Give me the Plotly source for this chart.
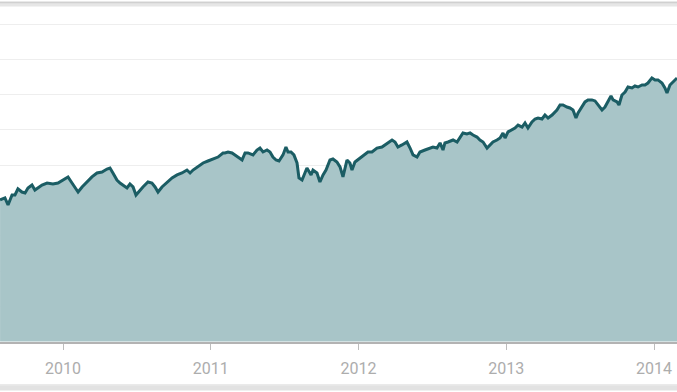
import plotly.graph_objects as go

# Decimal-year positions and index values
years = [
    2009.574, 2009.607, 2009.628, 2009.655, 2009.675, 2009.695, 2009.722, 2009.743, 2009.763, 2009.790,
    2009.810, 2009.831, 2009.858, 2009.892, 2009.932, 2009.966, 2010.000, 2010.034, 2010.061, 2010.081,
    2010.102, 2010.129, 2010.162, 2010.196, 2010.230, 2010.264, 2010.298, 2010.318, 2010.338, 2010.365,
    2010.386, 2010.406, 2010.433, 2010.453, 2010.474, 2010.494, 2010.521, 2010.541, 2010.575, 2010.602,
    2010.623, 2010.643, 2010.670, 2010.704, 2010.738, 2010.772, 2010.805, 2010.839, 2010.860, 2010.880,
    2010.914, 2010.948, 2010.981, 2011.015, 2011.049, 2011.083, 2011.096, 2011.117, 2011.144, 2011.164,
    2011.184, 2011.212, 2011.232, 2011.252, 2011.286, 2011.313, 2011.333, 2011.354, 2011.381, 2011.401,
    2011.421, 2011.442, 2011.462, 2011.489, 2011.509, 2011.523, 2011.543, 2011.563, 2011.584, 2011.597,
    2011.618, 2011.638, 2011.651, 2011.679, 2011.692, 2011.719, 2011.739, 2011.760, 2011.780, 2011.807,
    2011.827, 2011.854, 2011.875, 2011.895, 2011.909, 2011.922, 2011.942, 2011.956, 2011.976, 2012.010,
    2012.044, 2012.064, 2012.091, 2012.125, 2012.159, 2012.179, 2012.200, 2012.227, 2012.247, 2012.267,
    2012.294, 2012.328, 2012.349, 2012.369, 2012.396, 2012.416, 2012.450, 2012.484, 2012.504, 2012.531,
    2012.552, 2012.572, 2012.585, 2012.606, 2012.640, 2012.667, 2012.687, 2012.707, 2012.734, 2012.755,
    2012.775, 2012.802, 2012.822, 2012.843, 2012.870, 2012.890, 2012.910, 2012.937, 2012.958, 2012.978,
    2012.992, 2013.012, 2013.039, 2013.059, 2013.080, 2013.107, 2013.127, 2013.147, 2013.174, 2013.195,
    2013.215, 2013.242, 2013.262, 2013.283, 2013.310, 2013.330, 2013.343, 2013.364, 2013.384, 2013.411,
    2013.431, 2013.452, 2013.472, 2013.486, 2013.513, 2013.533, 2013.553, 2013.580, 2013.601, 2013.621,
    2013.648, 2013.668, 2013.689, 2013.709, 2013.723, 2013.750, 2013.763, 2013.783, 2013.804, 2013.824,
    2013.851, 2013.871, 2013.892, 2013.919, 2013.939, 2013.959, 2013.986, 2014.007, 2014.027, 2014.054,
    2014.074, 2014.088, 2014.108, 2014.129, 2014.156,
]

values = [
    1004, 1018, 968, 1039, 1039, 1082, 1060, 1053, 1089, 1110,
    1074, 1089, 1110, 1124, 1117, 1124, 1145, 1167, 1124, 1089,
    1060, 1096, 1131, 1167, 1195, 1202, 1223, 1230, 1195, 1145,
    1124, 1110, 1089, 1117, 1096, 1039, 1074, 1096, 1131, 1124,
    1096, 1060, 1096, 1131, 1160, 1181, 1195, 1216, 1195, 1216,
    1238, 1266, 1280, 1294, 1308, 1337, 1337, 1344, 1337, 1323,
    1308, 1287, 1337, 1337, 1323, 1358, 1372, 1344, 1358, 1344,
    1308, 1287, 1280, 1323, 1379, 1344, 1344, 1323, 1266, 1160,
    1145, 1195, 1230, 1181, 1216, 1195, 1131, 1181, 1216, 1287,
    1294, 1273, 1238, 1167, 1238, 1287, 1266, 1216, 1273, 1301,
    1323, 1344, 1344, 1372, 1379, 1394, 1415, 1429, 1415, 1379,
    1394, 1415, 1372, 1323, 1308, 1344, 1358, 1372, 1379, 1372,
    1408, 1358, 1408, 1415, 1429, 1415, 1450, 1479, 1472, 1479,
    1464, 1450, 1429, 1415, 1372, 1394, 1415, 1429, 1443, 1479,
    1443, 1486, 1500, 1514, 1535, 1521, 1550, 1514, 1557, 1578,
    1585, 1578, 1606, 1585, 1606, 1628, 1642, 1677, 1677, 1663,
    1656, 1642, 1585, 1621, 1663, 1699, 1713, 1713, 1706, 1677,
    1642, 1663, 1699, 1741, 1713, 1699, 1677, 1748, 1769, 1805,
    1798, 1812, 1805, 1819, 1819, 1833, 1869, 1855, 1855, 1833,
    1798, 1762, 1819, 1840, 1869,
]

tick_years = [2010, 2011, 2012, 2013, 2014]
tick_labels = ["2010", "2011", "2012", "2013", "2014"]

W, H = 677, 392
M_T, M_B = 8, 50
plot_h = H - M_T - M_B


def paper_y(py):
    return (H - M_B - py) / plot_h


fig = go.Figure()
fig.add_trace(go.Scatter(
    x=years, y=values, mode="lines",
    line=dict(color="#1b5d64", width=3),
    fill="tozeroy", fillcolor="#a8c5c8",
    hoverinfo="skip",
))

shapes = [
    dict(type="rect", xref="paper", yref="paper", x0=-0.01, x1=1.01,
         y0=paper_y(6.5), y1=paper_y(1.5), fillcolor="#e6e6e6", line=dict(width=0), layer="above"),
    dict(type="line", xref="paper", yref="paper", x0=-0.01, x1=1.01,
         y0=paper_y(2.5), y1=paper_y(2.5), line=dict(color="#d0d0d0", width=1.5), layer="above"),
    dict(type="rect", xref="paper", yref="paper", x0=-0.01, x1=1.01,
         y0=paper_y(390.5), y1=paper_y(384.5), fillcolor="#e2e2e2", line=dict(width=0)),
    dict(type="line", xref="paper", yref="paper", x0=-0.01, x1=1.01,
         y0=paper_y(385), y1=paper_y(385), line=dict(color="#e9e9e9", width=1.5)),
]

fig.update_layout(
    width=W, height=H,
    margin=dict(l=0, r=0, t=M_T, b=M_B, autoexpand=False),
    paper_bgcolor="white", plot_bgcolor="white",
    showlegend=False,
    shapes=shapes,
    xaxis=dict(
        range=[2009.5736, 2014.1557],
        tickmode="array", tickvals=tick_years, ticktext=tick_labels,
        showgrid=False, zeroline=False,
        showline=True, linecolor="#b3b3b3", linewidth=1.5,
        ticks="outside", ticklen=6, tickcolor="#bdbdbd", tickwidth=1,
        tickfont=dict(family="Roboto", size=16, color="#adadad"),
        ticklabelstandoff=5,
    ),
    yaxis=dict(
        range=[-3.5, 2365],
        dtick=250, tick0=0,
        showgrid=True, gridcolor="#eeeeee", gridwidth=1,
        zeroline=False, showticklabels=False, ticks="",
    ),
)

fig.write_html(
    "out.html",
    config={"displayModeBar": False, "staticPlot": True},
    post_script="document.body.style.margin='0';document.body.style.overflow='hidden';",
)
